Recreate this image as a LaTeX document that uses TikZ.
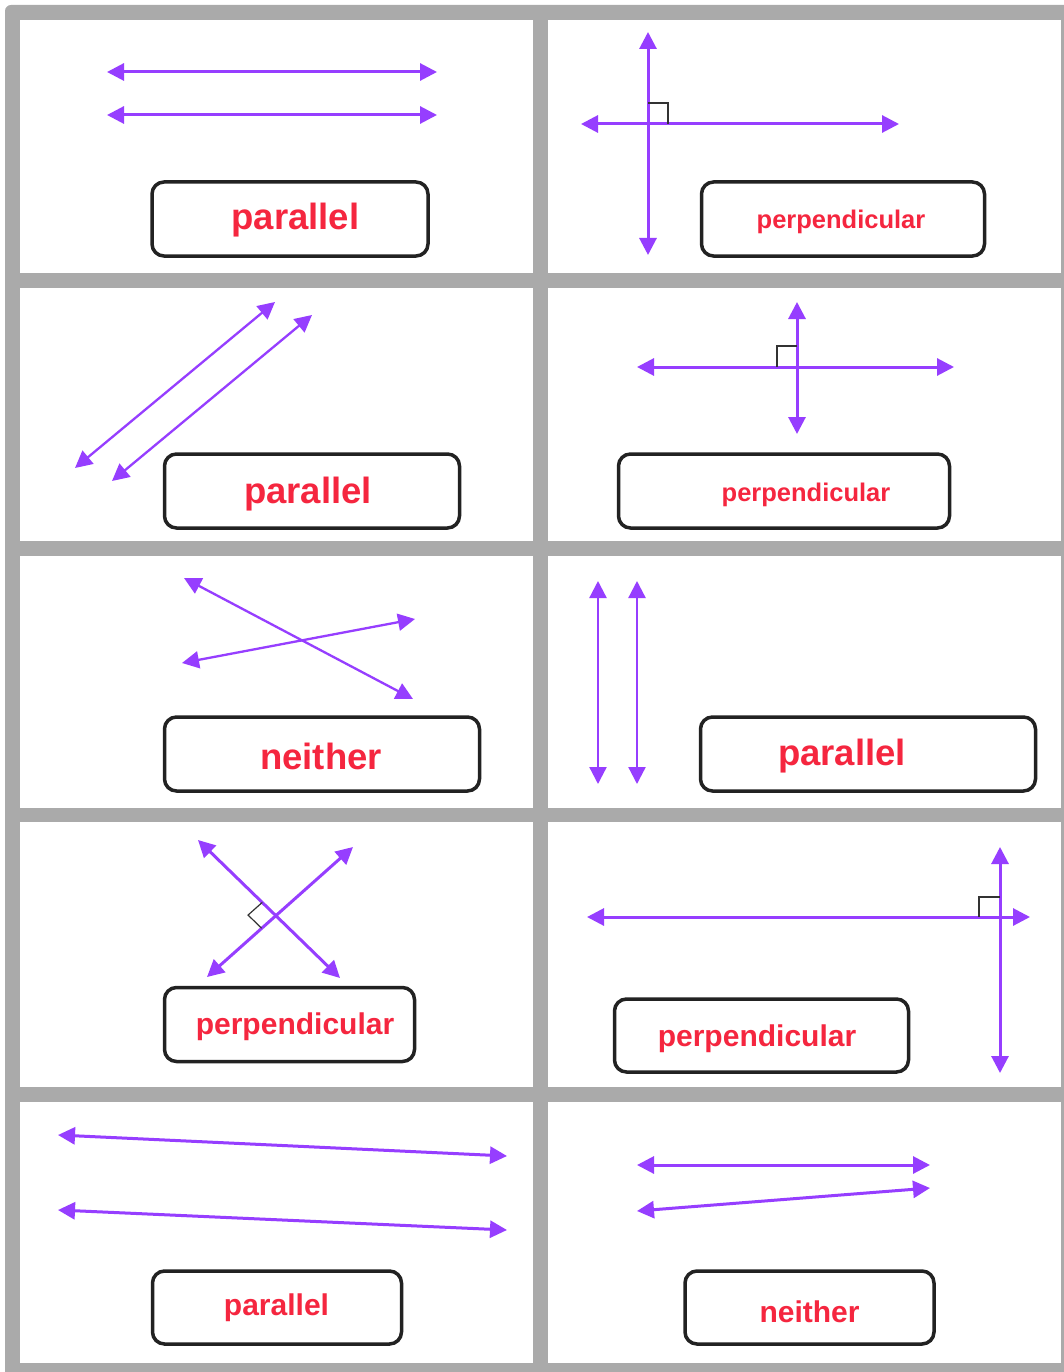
\documentclass[tikz,border=0pt]{standalone}
\usepackage{fontspec}
\setmainfont{Liberation Sans}
\usetikzlibrary{arrows.meta,calc}
\definecolor{gridgray}{RGB}{170,170,170}
\definecolor{linepurple}{RGB}{150,62,255}
\definecolor{labelred}{RGB}{245,38,63}
\definecolor{boxdark}{RGB}{34,34,34}
\tikzset{
  ln/.style={draw=linepurple, line width=3pt,
    {Triangle[length=17pt,width=17pt]}-{Triangle[length=17pt,width=17pt]}},
  lnthin/.style={ln, line width=2.3pt},
  lbl/.style={draw=boxdark, line width=3.5pt, rounded corners=12pt, fill=white},
  txt/.style={text=labelred, font=\bfseries, inner sep=0pt},
  big/.style={txt, font=\fontsize{36.5}{40}\selectfont\bfseries},
  mid/.style={txt, font=\fontsize{30}{34}\selectfont\bfseries},
  small/.style={txt, font=\fontsize{25.5}{30}\selectfont\bfseries},
  ra/.style={draw=black!80, line width=1.2pt},
  cell/.style={fill=white}
}
\begin{document}
\begin{tikzpicture}[x=1pt,y=-1pt]
\useasboundingbox (0,0) rectangle (1063,1372);
% grid
\fill[gridgray, rounded corners=6pt] (5,5) rectangle (1090,1400);
\foreach \ya/\yb in {20/273,288/541,556/808,822/1087,1102/1363}{
  \fill[cell] (20,\ya) rectangle (533,\yb);
  \fill[cell] (548,\ya) rectangle (1061,\yb);
}
% ---------- row 1 left
\draw[ln] (107,72) -- (437,72);
\draw[ln] (107,115) -- (437,115);
\node[lbl, minimum width=276pt, minimum height=74pt] (b1) at (290,219) {};
\node[big] (t1) at (295.5,220.5) {parallel};
% ---------- row 1 right
\draw[ln] (648,32) -- (648,255);
\draw[ln] (581,124) -- (899,124);
\draw[ra] (648,103) -- (668,103) -- (668,124);
\node[lbl, minimum width=283pt, minimum height=74pt] (b2) at (843,219) {};
\node[small] (t2) at (841,221.5) {perpendicular};
% ---------- row 2 left
\draw[lnthin] (75,468) -- (275,302);
\draw[lnthin] (112,481) -- (312,315);
\node[lbl, minimum width=295pt, minimum height=74pt] (b3) at (312,491) {};
\node[big] (t3) at (308,494) {parallel};
% ---------- row 2 right
\draw[ln] (637,367) -- (954,367);
\draw[ln] (797,302) -- (797,434);
\draw[ra] (797,346) -- (777,346) -- (777,367);
\node[lbl, minimum width=331pt, minimum height=74pt] (b4) at (784,491) {};
\node[small] (t4) at (806,494.5) {perpendicular};
% ---------- row 3 left
\draw[lnthin] (184,578) -- (413,699);
\draw[lnthin] (182,663) -- (415,619);
\node[lbl, minimum width=315pt, minimum height=74pt] (b5) at (322,754) {};
\node[big] (t5) at (321,756.5) {neither};
% ---------- row 3 right
\draw[lnthin] (598,581) -- (598,784);
\draw[lnthin] (637,581) -- (637,784);
\node[lbl, minimum width=335pt, minimum height=74pt] (b6) at (868,754) {};
\node[big] (t6) at (842,756) {parallel};
% ---------- row 4 left
\coordinate (pA) at (198,840);
\coordinate (pB) at (340,978);
\coordinate (pC) at (207,977);
\coordinate (pD) at (353,847);
\draw[ln] (pA) -- (pB);
\draw[ln] (pC) -- (pD);
\coordinate (pI) at (intersection of pA--pB and pC--pD);
\coordinate (q1) at ($(pI)!19pt!(pA)$);
\coordinate (q2) at ($(pI)!19pt!(pC)$);
\draw[ra] (q1) -- ($(q1)+(q2)-(pI)$) -- (q2);
\node[lbl, minimum width=250pt, minimum height=74pt] (b7) at (289.5,1024.5) {};
\node[mid] (t7) at (295,1026.5) {perpendicular};
% ---------- row 4 right
\draw[ln] (587,917) -- (1030,917);
\draw[ln] (1000,847) -- (1000,1073);
\draw[ra] (1000,897) -- (979,897) -- (979,917);
\node[lbl, minimum width=294pt, minimum height=73pt] (b8) at (761.5,1035.5) {};
\node[mid] (t8) at (757,1038.5) {perpendicular};
% ---------- row 5 left
\draw[ln] (58,1135) -- (507,1156);
\draw[ln] (58,1210) -- (507,1230);
\node[lbl, minimum width=249pt, minimum height=73pt] (b9) at (277,1307.5) {};
\node[mid] (t9) at (276.5,1307.5) {parallel};
% ---------- row 5 right
\draw[ln] (637,1165) -- (930,1165);
\draw[ln] (637,1211) -- (930,1188);
\node[lbl, minimum width=249pt, minimum height=73pt] (b10) at (809.5,1307.5) {};
\node[mid] (t10) at (809.5,1311.5) {neither};
\end{tikzpicture}
\end{document}
